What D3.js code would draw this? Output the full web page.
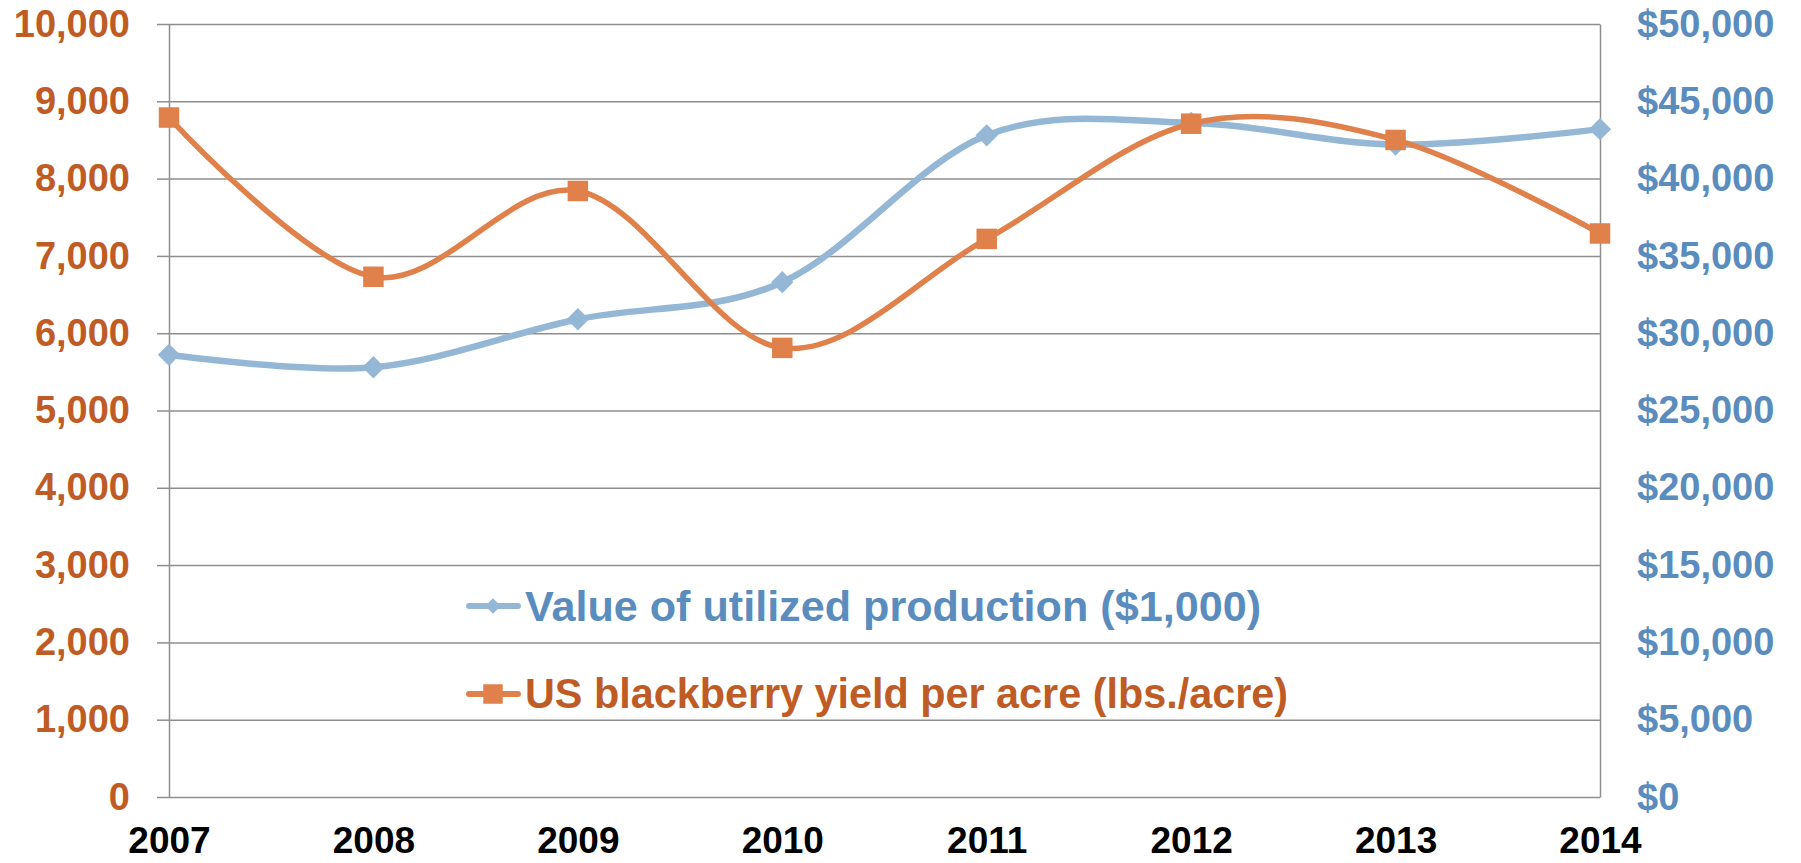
<!DOCTYPE html>
<html>
<head>
<meta charset="utf-8">
<script src="https://cdn.jsdelivr.net/npm/d3@7"></script>
<style>
  body { margin: 0; background: #fff; }
  svg { display: block; font-family: "Liberation Sans", Arial, sans-serif; font-weight: bold; }
</style>
</head>
<body>
<div id="chart"></div>
<script>
// data
var years = [2007, 2008, 2009, 2010, 2011, 2012, 2013, 2014];
var valueK = [28600, 27800, 30900, 33300, 42800, 43600, 42200, 43200];   // $1,000, right axis
var yieldLbs = [8790, 6730, 7840, 5810, 7220, 8710, 8500, 7290];       // lbs./acre, left axis
var leftTicks = d3.range(0, 10001, 1000);
var rightTicks = d3.range(0, 50001, 5000);
var legendLabels = ["Value of utilized production ($1,000)", "US blackberry yield per acre (lbs./acre)"];

var orange = "#e0804a", orangeText = "#bf5c26";
var blue = "#95b7d6", blueText = "#5a8cbd";
var gridColor = "#8e8e8e";

var svg = d3.select("#chart")
  .append("svg")
  .attr("width", 1801)
  .attr("height", 863);

// plot box (don't use "top" - clashes with window.top)
var plotL = 169, plotR = 1600, plotT = 24, plotB = 797;

// scales
var x = d3.scalePoint().domain(years).range([plotL, plotR]);
var yL = d3.scaleLinear().domain([0, 10000]).range([plotB, plotT]);
var yR = d3.scaleLinear().domain([0, 50000]).range([plotB, plotT]);

// gridlines
svg.append("g")
  .attr("transform", "translate(" + plotL + ",0)")
  .call(d3.axisLeft(yL).tickValues(leftTicks).tickSize(-(plotR - plotL)).tickFormat(""))
  .call(function(g) { g.select(".domain").remove(); })
  .selectAll("line")
  .attr("stroke", gridColor)
  .attr("stroke-width", 1.5);

// left axis
var axL = svg.append("g")
  .attr("transform", "translate(" + plotL + ",0)")
  .call(d3.axisLeft(yL).tickValues(leftTicks).tickSize(12).tickPadding(27).tickSizeOuter(0).tickFormat(d3.format(",")));
axL.select(".domain").attr("stroke", gridColor).attr("stroke-width", 1.5);
axL.selectAll("line").attr("stroke", gridColor).attr("stroke-width", 1.5);
axL.selectAll("text")
  .attr("fill", orangeText)
  .style("font-size", "38px")
  .style("font-weight", "bold")
  .style("font-family", "'Liberation Sans', Arial, sans-serif");

// right axis
var axR = svg.append("g")
  .attr("transform", "translate(" + plotR + ",0)")
  .call(d3.axisRight(yR).tickValues(rightTicks).tickSize(0).tickPadding(37).tickSizeOuter(0)
    .tickFormat(function(d) { return "$" + d3.format(",")(d); }));
axR.select(".domain").attr("stroke", gridColor).attr("stroke-width", 1.5);
axR.selectAll("text")
  .attr("fill", blueText)
  .style("font-size", "38px")
  .style("font-weight", "bold")
  .style("font-family", "'Liberation Sans', Arial, sans-serif");

// bottom axis (labels only)
var axB = svg.append("g")
  .attr("transform", "translate(0," + plotB + ")")
  .call(d3.axisBottom(x).tickSize(0).tickPadding(30));
axB.select(".domain").remove();
axB.selectAll("text")
  .attr("fill", "#000")
  .style("font-size", "37px")
  .style("font-weight", "bold")
  .style("font-family", "'Liberation Sans', Arial, sans-serif");

// lines
var lineV = d3.line()
  .x(function(d, i) { return x(years[i]); })
  .y(function(d) { return yR(d); })
  .curve(d3.curveCardinal.tension(0));

var lineY = d3.line()
  .x(function(d, i) { return x(years[i]); })
  .y(function(d) { return yL(d); })
  .curve(d3.curveCardinal.tension(0));

svg.append("path")
  .datum(valueK)
  .attr("d", lineV)
  .attr("fill", "none")
  .attr("stroke", blue)
  .attr("stroke-width", 6.5);

svg.selectAll(".diamond")
  .data(valueK)
  .enter().append("path")
  .attr("class", "diamond")
  .attr("d", d3.symbol(d3.symbolSquare, 250))
  .attr("transform", function(d, i) { return "translate(" + x(years[i]) + "," + yR(d) + ") rotate(45)"; })
  .attr("fill", blue);

svg.append("path")
  .datum(yieldLbs)
  .attr("d", lineY)
  .attr("fill", "none")
  .attr("stroke", orange)
  .attr("stroke-width", 5.5);

svg.selectAll(".square")
  .data(yieldLbs)
  .enter().append("path")
  .attr("class", "square")
  .attr("d", d3.symbol(d3.symbolSquare, 420))
  .attr("transform", function(d, i) { return "translate(" + x(years[i]) + "," + yL(d) + ")"; })
  .attr("fill", orange);

// legend
var legend = svg.append("g").attr("transform", "translate(466,0)");
var legendRows = [
  { label: legendLabels[0], line: blue, text: blueText, y: 606, base: 621, width: 736, sym: "diamond" },
  { label: legendLabels[1], line: orange, text: orangeText, y: 694, base: 708, width: 763, sym: "square" }
];

legendRows.forEach(function(r) {
  legend.append("line")
    .attr("x1", 3).attr("x2", 52)
    .attr("y1", r.y).attr("y2", r.y)
    .attr("stroke", r.line)
    .attr("stroke-width", 6)
    .attr("stroke-linecap", "round");
  if (r.sym === "diamond") {
    legend.append("path")
      .attr("d", d3.symbol(d3.symbolSquare, 120))
      .attr("transform", "translate(27," + r.y + ") rotate(45)")
      .attr("fill", r.line);
  } else {
    legend.append("path")
      .attr("d", d3.symbol(d3.symbolSquare, 380))
      .attr("transform", "translate(27," + r.y + ")")
      .attr("fill", r.line);
  }
  legend.append("text")
    .attr("x", 59)
    .attr("y", r.base)
    .attr("fill", r.text)
    .attr("textLength", r.width)
    .attr("lengthAdjust", "spacingAndGlyphs")
    .style("font-size", "43px")
    .text(r.label);
});
</script>
</body>
</html>
